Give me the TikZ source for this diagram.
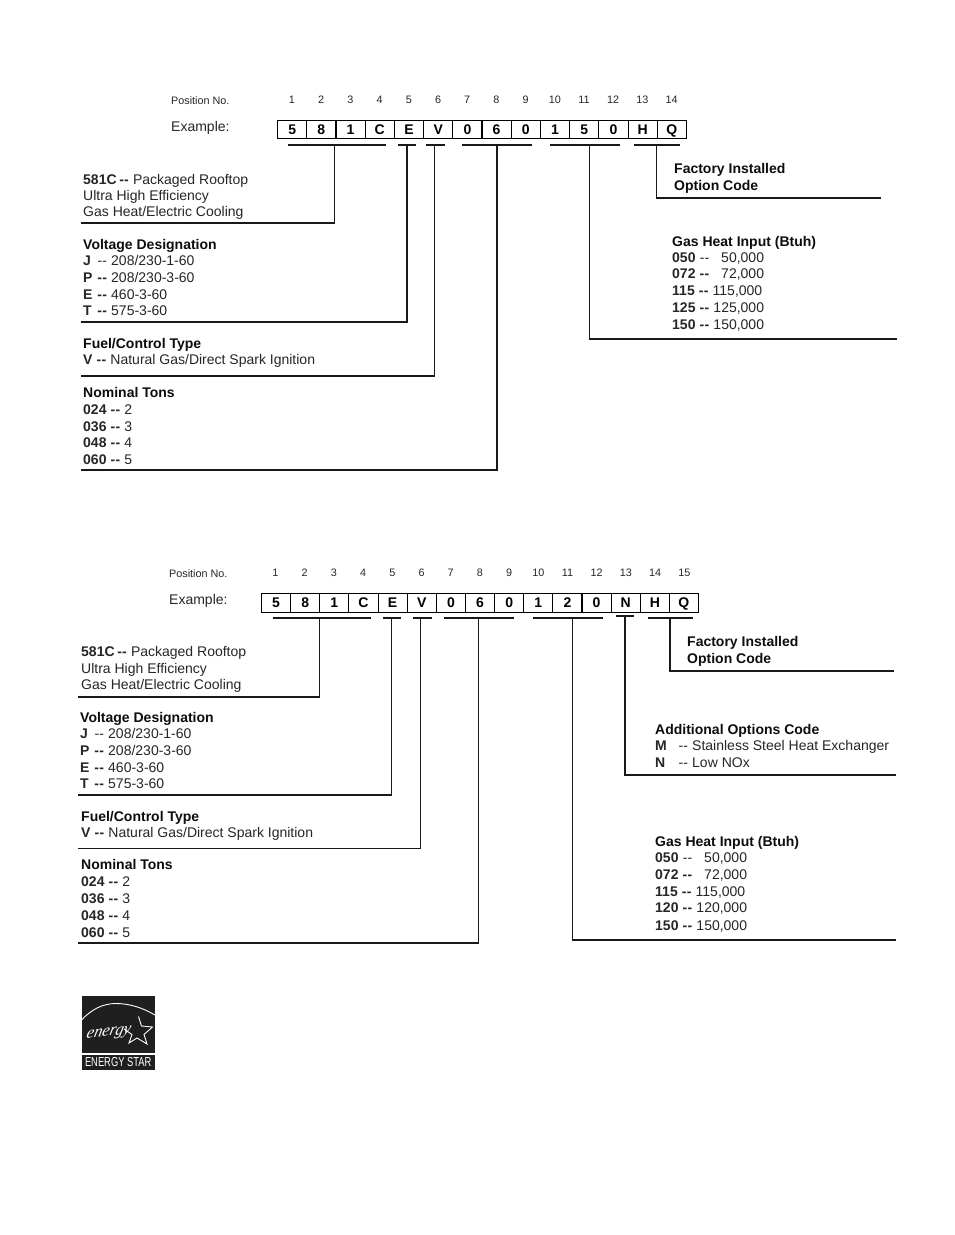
\documentclass[tikz,border=0pt]{standalone}
\usepackage{fontspec}
\setmainfont{Liberation Sans}
\usetikzlibrary{calc}
\newfontfamily\logoscript{Liberation Serif}
\newcommand{\dd}{\kern.3pt-\kern.2pt-\kern.3pt}
\newcommand{\bd}{\textbf{\dd}}
\tikzset{
 x=1pt,y=-1pt,
 tx/.style={anchor=base west,inner sep=0pt,font=\fontsize{14}{16}\selectfont,text=black!85},
 tb/.style={tx,font=\fontsize{14}{16}\selectfont\bfseries,text=black!95},
 posnum/.style={anchor=base,inner sep=0pt,font=\fontsize{10.8}{12}\selectfont,text=black!85},
 posl/.style={anchor=base west,inner sep=0pt,font=\fontsize{10.8}{12}\selectfont,text=black!85},
 cell/.style={draw=black,line width=1.1pt,anchor=north west,inner sep=0pt,text height=10pt,text depth=0pt,font=\fontsize{14}{16}\selectfont\bfseries},
 bar/.style={line width=1.2pt,black!90},
 lead/.style={line width=1.2pt,black!90,line join=miter},
}
\newcommand{\cellrow}[6]{%
 \foreach \c [count=\i from 0] in {#6} {
  \node[cell,minimum width=#4pt,minimum height=#5pt] (#1\i) at ({#2+\i*#4},#3) {\c};
 }}
\newcommand{\posrow}[5]{%
 \foreach \i in {1,...,#4} {
  \node[posnum] (#1n\i) at ({#2+(\i-1)*#5},#3) {\i};
 }}
\newcommand{\leader}[7]{%
 \coordinate (#1a) at (#2,#4);
 \coordinate (#1b) at (#3,#4);
 \coordinate (#1c) at (#5,#4);
 \coordinate (#1d) at (#5,#6);
 \coordinate (#1e) at (#7,#6);
 \draw[bar] (#1a) -- (#1b);
 \draw[lead] (#1c) -- (#1d) -- (#1e);
}
\begin{document}
\begin{tikzpicture}
\useasboundingbox (0,0) rectangle (954,1235);
\fill[white] (0,0) rectangle (954,1235);

%% TOP
\node[posl] (tpos) at (171,104.5) {Position No.};
\posrow{t}{292}{103}{14}{29.2}
\node[tx] (tex) at (171,131) {Example:};
\cellrow{tc}{277}{119.5}{29.21}{18.3}{5,8,1,C,E,V,0,6,0,1,5,0,H,Q}

\node[tx] (t1a) at (83,184) {\textbf{581C}\,\bd\ Packaged Rooftop};
\node[tx] (t1b) at (83,200) {Ultra High Efficiency};
\node[tx] (t1c) at (83,216.5) {Gas Heat/Electric Cooling};
\leader{tl1}{288}{386}{145}{334.6}{223}{81}

\node[tb] (t2a) at (83,249) {Voltage Designation};
\node[tx] (t2b) at (83,265) {\makebox[14pt][l]{\textbf{J}}\dd\ 208/230-1-60};
\node[tx] (t2c) at (83,282) {\makebox[14pt][l]{\textbf{P}}\bd\ 208/230-3-60};
\node[tx] (t2d) at (83,299) {\makebox[14pt][l]{\textbf{E}}\bd\ 460-3-60};
\node[tx] (t2e) at (83,315.5) {\makebox[14pt][l]{\textbf{T}}\bd\ 575-3-60};
\leader{tl2}{398}{416}{145}{407}{322}{81}

\node[tb] (t3a) at (83,348) {Fuel/Control Type};
\node[tx] (t3b) at (83,364) {\textbf{V} \bd\ Natural Gas/Direct Spark Ignition};
\leader{tl3}{426}{445}{145}{434.5}{376}{81}

\node[tb] (t4a) at (83,397) {Nominal Tons};
\node[tx] (t4b) at (83,414) {\textbf{024} \bd\ 2};
\node[tx] (t4c) at (83,431) {\textbf{036} \bd\ 3};
\node[tx] (t4d) at (83,447.5) {\textbf{048} \bd\ 4};
\node[tx] (t4e) at (83,464.5) {\textbf{060} \bd\ 5};
\leader{tl4}{462}{532}{145}{497}{470}{81}

\node[tb] (t5a) at (672,246) {Gas Heat Input (Btuh)};
\node[tx] (t5b) at (672,262) {\textbf{050} \dd\ \ \ 50,000};
\node[tx] (t5c) at (672,278.5) {\textbf{072} \bd\ \ \ 72,000};
\node[tx] (t5d) at (672,295.5) {\textbf{115} \bd\ 115,000};
\node[tx] (t5e) at (672,312) {\textbf{125} \bd\ 125,000};
\node[tx] (t5f) at (672,329) {\textbf{150} \bd\ 150,000};
\leader{tl5}{550}{620}{145}{589.5}{339}{897}

\node[tb] (t6a) at (674,173.5) {Factory Installed};
\node[tb] (t6b) at (674,190) {Option Code};
\leader{tl6}{634}{680}{145}{656.5}{198}{881}

%% BOTTOM
\node[posl] (bpos) at (169,577.5) {Position No.};
\posrow{b}{275.5}{576.5}{15}{29.2}
\node[tx] (bex) at (169,604) {Example:};
\cellrow{bc}{261}{593}{29.13}{18.5}{5,8,1,C,E,V,0,6,0,1,2,0,N,H,Q}

\node[tx] (b1a) at (81,656) {\textbf{581C}\,\bd\ Packaged Rooftop};
\node[tx] (b1b) at (81,673) {Ultra High Efficiency};
\node[tx] (b1c) at (81,689.5) {Gas Heat/Electric Cooling};
\leader{bl1}{273}{371}{618}{319.5}{697}{78}

\node[tb] (b2a) at (80,722) {Voltage Designation};
\node[tx] (b2b) at (80,738) {\makebox[14pt][l]{\textbf{J}}\dd\ 208/230-1-60};
\node[tx] (b2c) at (80,755) {\makebox[14pt][l]{\textbf{P}}\bd\ 208/230-3-60};
\node[tx] (b2d) at (80,772) {\makebox[14pt][l]{\textbf{E}}\bd\ 460-3-60};
\node[tx] (b2e) at (80,788.5) {\makebox[14pt][l]{\textbf{T}}\bd\ 575-3-60};
\leader{bl2}{383}{401}{618}{391.5}{795}{78}

\node[tb] (b3a) at (81,821) {Fuel/Control Type};
\node[tx] (b3b) at (81,837) {\textbf{V} \bd\ Natural Gas/Direct Spark Ignition};
\leader{bl3}{412.5}{432}{618}{420.5}{848.5}{78}

\node[tb] (b4a) at (81,869) {Nominal Tons};
\node[tx] (b4b) at (81,886) {\textbf{024} \bd\ 2};
\node[tx] (b4c) at (81,903) {\textbf{036} \bd\ 3};
\node[tx] (b4d) at (81,920) {\textbf{048} \bd\ 4};
\node[tx] (b4e) at (81,937) {\textbf{060} \bd\ 5};
\leader{bl4}{444}{513.5}{618}{478.5}{943}{78}

\node[tb] (b5a) at (655,846.5) {Gas Heat Input (Btuh)};
\node[tx] (b5b) at (655,862.5) {\textbf{050} \dd\ \ \ 50,000};
\node[tx] (b5c) at (655,879) {\textbf{072} \bd\ \ \ 72,000};
\node[tx] (b5d) at (655,896) {\textbf{115} \bd\ 115,000};
\node[tx] (b5e) at (655,912.5) {\textbf{120} \bd\ 120,000};
\node[tx] (b5f) at (655,930) {\textbf{150} \bd\ 150,000};
\leader{bl5}{533}{602.5}{618}{572.5}{940}{896}

\node[tb] (b6a) at (655,734.5) {Additional Options Code};
\node[tx] (b6b) at (655,750) {\makebox[23pt][l]{\textbf{M}}\dd\ Stainless Steel Heat Exchanger};
\node[tx] (b6c) at (655,767.5) {\makebox[23pt][l]{\textbf{N}}\dd\ Low NOx};
\leader{bl6}{616}{633.5}{616}{625}{775}{896}

\node[tb] (b7a) at (687,646.5) {Factory Installed};
\node[tb] (b7b) at (687,663) {Option Code};
\leader{bl7}{648}{692.5}{618}{670}{671}{894}

%% LOGO
\fill[black!88] (81.5,995.5) rectangle (155,1070);
\fill[white] (81.5,1052.5) rectangle (155,1055);
\draw[white,line width=0.9pt] (81.5,1020) .. controls (92,1009) and (103,1003.5) .. (116,1003.5) .. controls (130,1003.5) and (143,1008) .. (155,1015);
\node[anchor=base,inner sep=0pt,text=white,rotate=6,xslant=0.35,font=\logoscript\itshape\fontsize{16.5}{17}\selectfont] (logoE) at (108,1036) {energy};
\draw[white,line width=0.9pt] (138.5,1016.5) -- (141.5,1026) -- (152.5,1027) -- (144,1034.5) -- (147,1044) -- (137,1038) -- (129,1043) -- (132,1034.5) -- (124,1029);
\node[anchor=base,inner sep=0pt,text=white,font=\fontsize{13}{13}\selectfont,xscale=0.72] (logoS) at (118.2,1066.5) {ENERGY STAR};
\end{tikzpicture}
\end{document}
